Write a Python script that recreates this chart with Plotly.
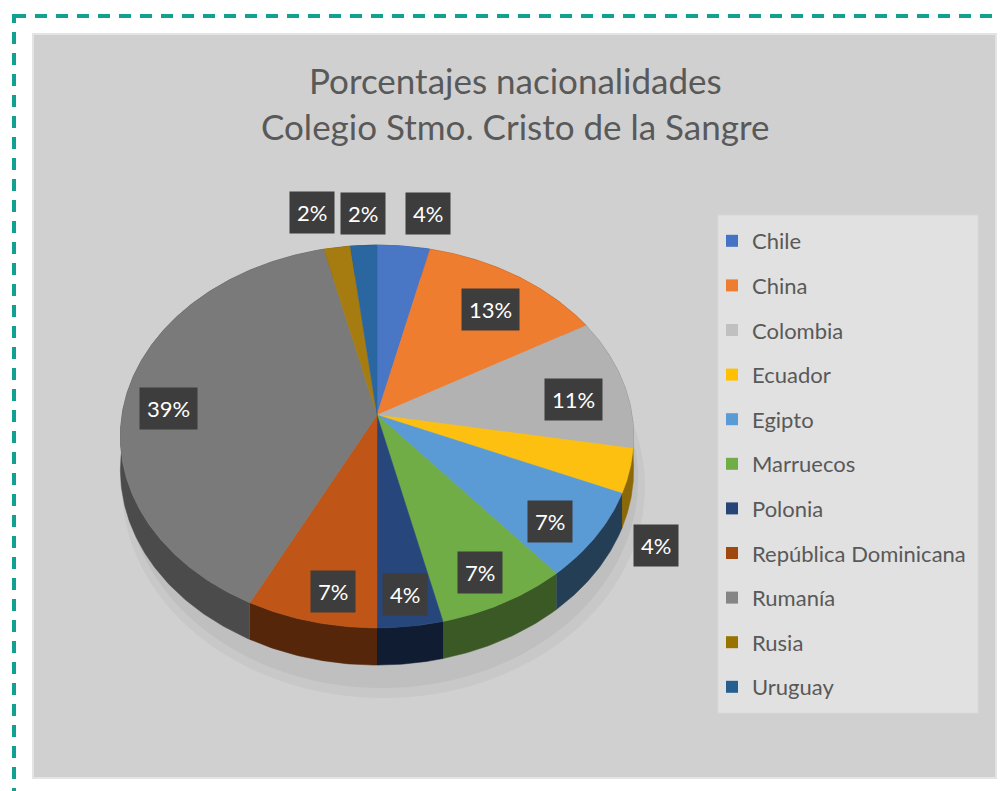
import math
import plotly.graph_objects as go

# ---------------- data ----------------
countries = ["Chile", "China", "Colombia", "Ecuador", "Egipto", "Marruecos",
             "Polonia", "República Dominicana", "Rumanía", "Rusia", "Uruguay"]
students = [2, 7, 6, 2, 4, 4, 2, 4, 21, 1, 1]
title_lines = ["Porcentajes nacionalidades", "Colegio Stmo. Cristo de la Sangre"]

# ---------------- style ----------------
top_colors = ["#4a76c6", "#ee7d30", "#b2b2b2", "#fdc010", "#5b9bd5", "#70ad47",
              "#27467c", "#bf5618", "#7a7a7a", "#a67c10", "#2a66a0"]
legend_colors = ["#4472c4", "#ed7d31", "#c0c0c0", "#ffc000", "#5b9bd5", "#70ad47",
                 "#264478", "#9e480e", "#858585", "#997300", "#255e91"]
side_factor = [0.55, 0.55, 0.62, 0.55, 0.40, 0.52, 0.40, 0.45, 0.62, 0.55, 0.5]
# label placement (relative radius, angular nudge in degrees)
label_r = [1.235, 0.76, 0.78, 1.2, 0.83, 0.845, 0.865, 0.86, 0.82, 1.25, 1.215]
label_nudge = [3.9, 1.9, 4.1, 15.5, 3.1, 0.8, 0.1, -2.9, -4.1, -3.4, 0.4]

W, H = 1006, 791
OFF = 8                  # page body margin
CX, CY = 377, 415        # pie centre (pixels)
R = 255                  # horizontal radius
A = 189                  # vertical scale
B = 0.1123               # perspective strength
DEPTH = 33               # thickness of the pie
FONT = "Lato, 'Open Sans', sans-serif"
TXT = "#595959"


def darker(hexc, f):
    r, g, b = int(hexc[1:3], 16), int(hexc[3:5], 16), int(hexc[5:7], 16)
    return "#%02x%02x%02x" % (int(r * f), int(g * f), int(b * f))


def proj(theta_deg, f=1.0, drop=0.0):
    t = math.radians(theta_deg)
    p = f * math.cos(t)
    q = f * math.sin(t)
    k = 1.0 / (1.0 + B * p)
    return CX + R * q * k, CY - A * p * k + drop * k


def arc(a0, a1, f=1.0, drop=0.0):
    n = max(2, int(abs(a1 - a0) * 1.5) + 1)
    pts = [proj(a0 + (a1 - a0) * i / (n - 1), f, drop) for i in range(n)]
    return [p[0] for p in pts], [p[1] for p in pts]


total = sum(students)
angles = []
acc = 0
for v in students:
    a0 = acc / total * 360
    acc += v
    a1 = acc / total * 360
    angles.append((a0, a1))

fig = go.Figure()

# sides (drawn first, hidden behind tops where not visible)
for i, (a0, a1) in enumerate(angles):
    tx, ty = arc(a0, a1)
    bx, by = arc(a0, a1, drop=DEPTH)
    fig.add_trace(go.Scatter(
        x=tx + bx[::-1], y=ty + by[::-1], mode="lines", fill="toself",
        fillcolor=darker(top_colors[i], side_factor[i]),
        line=dict(color=darker(top_colors[i], side_factor[i]), width=0.5),
        showlegend=False, hoverinfo="skip"))

# top faces
for i, (a0, a1) in enumerate(angles):
    ax, ay = arc(a0, a1)
    fig.add_trace(go.Scatter(
        x=[CX] + ax + [CX], y=[CY] + ay + [CY], mode="lines", fill="toself",
        fillcolor=top_colors[i], line=dict(color=top_colors[i], width=0.5),
        showlegend=False, name=countries[i],
        hovertemplate=countries[i] + ": %d<extra></extra>" % students[i]))

# legend entries
for i, c in enumerate(countries):
    fig.add_trace(go.Scatter(
        x=[None], y=[None], mode="markers", name=c, legendgroup=c,
        marker=dict(symbol="square", size=11, color=legend_colors[i])))

# data labels
annotations = []
for i, (a0, a1) in enumerate(angles):
    mid = (a0 + a1) / 2 + label_nudge[i]
    lx, ly = proj(mid, label_r[i])
    pct = round(students[i] / total * 100)
    annotations.append(dict(
        x=lx, y=ly, xref="x", yref="y", text="%d%%" % pct, showarrow=False,
        font=dict(family=FONT, size=22, color="white"),
        bgcolor="#3d3d3d", borderpad=7))

# title
for j, t in enumerate(title_lines):
    annotations.append(dict(
        x=515, y=80 + 46 * j, xref="x", yref="y", text=t, showarrow=False,
        font=dict(family=FONT, size=35, color=TXT)))

shapes = [
    # chart area
    dict(type="rect", xref="x", yref="y", x0=33, y0=34, x1=996, y1=778,
         fillcolor="#d0d0d0", line=dict(color="#e4e4e4", width=2), layer="below"),
    # soft shadow below pie
    dict(type="circle", xref="x", yref="y", x0=122, y0=275, x1=645, y1=698,
         fillcolor="rgba(90,90,90,0.06)", line=dict(width=0), layer="below"),
    dict(type="circle", xref="x", yref="y", x0=126, y0=272, x1=638, y1=688,
         fillcolor="rgba(90,90,90,0.08)", line=dict(width=0), layer="below"),
    # legend box
    dict(type="rect", xref="x", yref="y", x0=718, y0=215, x1=978, y1=713,
         fillcolor="#e1e1e1", line=dict(color="#d8d8d8", width=1), layer="below"),
    # dashed frame
    dict(type="rect", xref="x", yref="y", x0=14, y0=16, x1=1030, y1=820,
         fillcolor="rgba(0,0,0,0)",
         line=dict(color="#12a091", width=4, dash="12px,9px"), layer="above"),
]

fig.update_layout(
    width=W, height=H, margin=dict(l=0, r=0, t=0, b=0),
    paper_bgcolor="white", plot_bgcolor="rgba(0,0,0,0)",
    xaxis=dict(range=[OFF, W + OFF], visible=False, fixedrange=True),
    yaxis=dict(range=[H + OFF, OFF], visible=False, fixedrange=True),
    shapes=shapes, annotations=annotations,
    legend=dict(x=(712 - OFF) / W, y=1 - (220 - OFF) / H, xanchor="left", yanchor="top",
                bgcolor="rgba(0,0,0,0)", font=dict(family=FONT, size=22, color=TXT),
                tracegroupgap=13, itemsizing="constant"),
    showlegend=True,
)

fig.write_html("out.html")
